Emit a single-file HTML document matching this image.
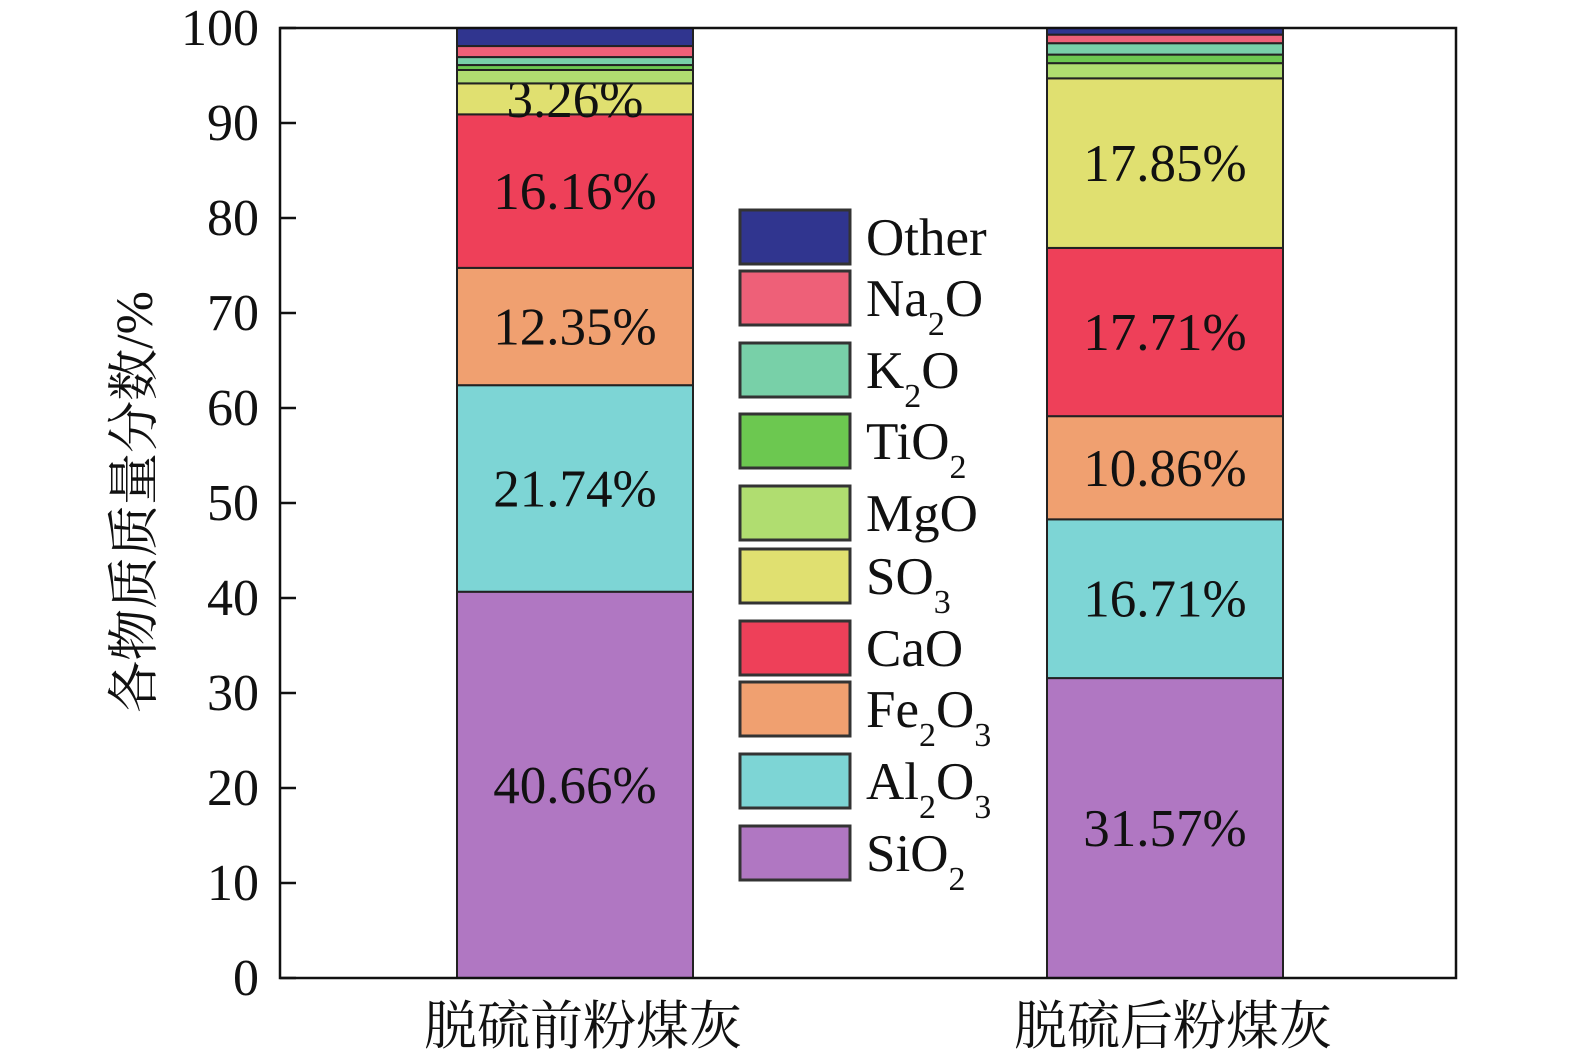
<!DOCTYPE html>
<html><head><meta charset="utf-8"><style>
body{margin:0;background:#fff}
svg text{font-family:"Liberation Serif","Noto Serif CJK SC",serif;fill:#111}
</style></head><body>
<svg id="c" width="1575" height="1059" xmlns="http://www.w3.org/2000/svg"></svg>
<script>
const categories=["脱硫前粉煤灰","脱硫后粉煤灰"];
const components=["SiO2","Al2O3","Fe2O3","CaO","SO3","MgO","TiO2","K2O","Na2O","Other"];
const before=[40.66,21.74,12.35,16.16,3.26,1.41,0.52,0.84,1.16,1.9];
const after=[31.57,16.71,10.86,17.71,17.85,1.6,0.9,1.2,0.9,0.7];
const labelsBefore=["40.66%","21.74%","12.35%","16.16%","3.26%"];
const labelsAfter=["31.57%","16.71%","10.86%","17.71%","17.85%"];
const yTicks=[0,10,20,30,40,50,60,70,80,90,100];
const colors=["#b077c2","#7dd5d5","#f0a070","#ee4059","#e0e070","#b0dd70","#6cc850","#78d0a8","#ee6078","#30358f"];
const legendHTML=["SiO<tspan baseline-shift='sub' font-size='34'>2</tspan>","Al<tspan baseline-shift='sub' font-size='34'>2</tspan>O<tspan baseline-shift='sub' font-size='34'>3</tspan>","Fe<tspan baseline-shift='sub' font-size='34'>2</tspan>O<tspan baseline-shift='sub' font-size='34'>3</tspan>","CaO","SO<tspan baseline-shift='sub' font-size='34'>3</tspan>","MgO","TiO<tspan baseline-shift='sub' font-size='34'>2</tspan>","K<tspan baseline-shift='sub' font-size='34'>2</tspan>O","Na<tspan baseline-shift='sub' font-size='34'>2</tspan>O","Other"];
const svg=document.getElementById('c');
const NS="http://www.w3.org/2000/svg";
const L=280,R=1456,T=28,B=978;
const y=v=>B-(B-T)*v/100;
const barX=[457,1047],barW=236;
function mk(tag,attrs,parent){const e=document.createElementNS(NS,tag);for(const k in attrs)e.setAttribute(k,attrs[k]);(parent||svg).appendChild(e);return e;}
[before,after].forEach((vals,bi)=>{
  let cum=0;
  const g=mk('g',{});
  
  
  vals.forEach((v,i)=>{
    const r=mk('rect',{x:barX[bi],y:y(cum+v),width:barW,height:y(cum)-y(cum+v),fill:colors[i],stroke:'#222','stroke-width':2},g);
    
    
    const labs=bi?labelsAfter:labelsBefore;
    if(i<labs.length){
      const t=mk('text',{x:barX[bi]+barW/2,y:y(cum+v/2)+18,'text-anchor':'middle','font-size':53},g);
      t.textContent=labs[i];
      
      
    }
    cum+=v;
  });
});
const f=mk('rect',{x:L,y:T,width:R-L,height:B-T,fill:'none',stroke:'#111','stroke-width':2.5});


yTicks.forEach(v=>{
  mk('line',{x1:L,x2:L+16,y1:y(v),y2:y(v),stroke:'#111','stroke-width':2.5});
  const t=mk('text',{x:259,y:y(v)+17,'text-anchor':'end','font-size':52});
  t.textContent=v;
  
  
});
categories.forEach((c,i)=>{
  const t=mk('text',{x:barX[i]+barW/2+8,y:1044,'text-anchor':'middle','font-size':53});
  t.textContent=c;
  
  
});
const yt=mk('text',{x:0,y:0,'text-anchor':'middle','font-size':52,transform:'translate(152,502) rotate(-90)'});
yt.textContent='各物质质量分数/%';


const lg=mk('g',{});


mk('rect',{x:735,y:206,width:245,height:680,fill:'#fff'},lg);
const ly=[853,781,709,648,576,513,441,370,298,237];
components.forEach((c,i)=>{
  const e=mk('g',{},lg);
  
  
  mk('rect',{x:740,y:ly[i]-27,width:110,height:54,fill:colors[i],stroke:'#333','stroke-width':3},e);
  const t=mk('text',{x:866,y:ly[i]+18,'font-size':53},e);
  t.innerHTML=legendHTML[i];
});
</script>
</body></html>
